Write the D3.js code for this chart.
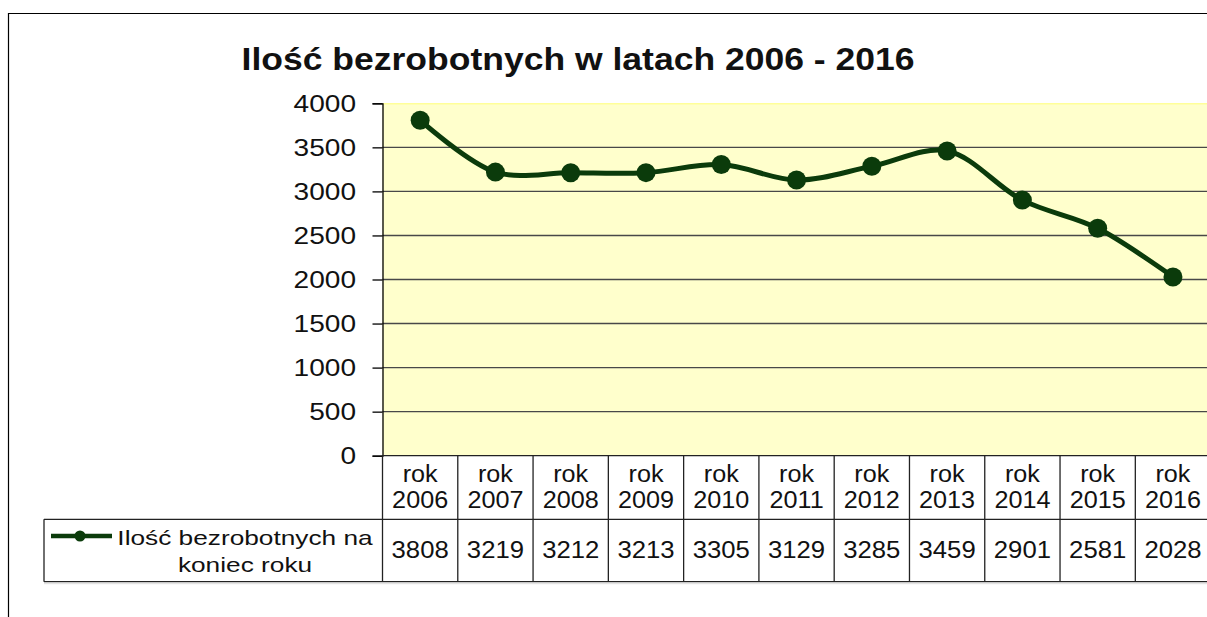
<!DOCTYPE html>
<meta charset="utf-8">
<style>
  body { margin: 0; background: #fff; }
  text { font-family: "Liberation Sans", Arial, sans-serif; fill: #111; }
</style>
<body></body>
<script src="https://cdn.jsdelivr.net/npm/d3@7"></script>
<script>
  const width = 1207
  const height = 617

  const title = "Ilość bezrobotnych w latach 2006 - 2016"
  const seriesName = ["Ilość bezrobotnych na", "koniec roku"]
  const years = ["2006", "2007", "2008", "2009", "2010", "2011", "2012", "2013", "2014", "2015", "2016"]
  const unemployed = [3808, 3219, 3212, 3213, 3305, 3129, 3285, 3459, 2901, 2581, 2028]
  const yTicks = [0, 500, 1000, 1500, 2000, 2500, 3000, 3500, 4000]

  const lineColor = "#0b3b0b"
  const plotBg = "#ffffcc"
  const gridColor = "#484848"

  // plot frame (right edge runs off the page like in the source picture)
  const plot = { left: 382.5, right: 1210.6, top: 103.3, bottom: 455.7 }
  const rowTop = 519.3
  const rowBottom = 581.7
  const legendLeft = 44

  const x = d3.scaleBand()
    .domain(years)
    .range([plot.left, plot.right])

  const y = d3.scaleLinear()
    .domain([0, 4000])
    .range([plot.bottom, plot.top])

  const svg = d3.select("body")
    .append("svg")
    .attr("width", width)
    .attr("height", height)

  // helper: text slightly stretched horizontally, like the original export
  function label(parent, str, px, py, size, sx, anchor, weight) {
    return parent.append("text")
      .attr("transform", `translate(${px},${py}) scale(${sx},1)`)
      .attr("text-anchor", anchor || "middle")
      .attr("font-size", size)
      .attr("font-weight", weight || "normal")
      .text(str)
  }

  // outer chart border
  svg.append("path")
    .attr("d", `M8.5,${height + 2} V13.5 H${width + 2}`)
    .attr("fill", "none")
    .attr("stroke", "#000")
    .attr("stroke-width", 1.2)

  label(svg, title, 578, 69.5, 32, 1.11, "middle", "bold")

  // plot background
  svg.append("rect")
    .attr("x", plot.left)
    .attr("y", plot.top)
    .attr("width", plot.right - plot.left)
    .attr("height", plot.bottom - plot.top)
    .attr("fill", plotBg)

  svg.append("line")
    .attr("x1", plot.left).attr("x2", plot.right)
    .attr("y1", plot.top + 0.5).attr("y2", plot.top + 0.5)
    .attr("stroke", "#ffff99")
    .attr("stroke-width", 1.5)

  // gridlines
  svg.append("g")
    .selectAll("line")
    .data(yTicks.filter(d => d > 0 && d < 4000))
    .join("line")
    .attr("x1", plot.left).attr("x2", plot.right)
    .attr("y1", d => y(d)).attr("y2", d => y(d))
    .attr("stroke", gridColor)
    .attr("stroke-width", 1.4)

  // y axis
  const yAxis = svg.append("g")
    .attr("transform", `translate(${plot.left},0)`)
    .call(d3.axisLeft(y).tickValues(yTicks).tickSize(10).tickFormat(""))

  yAxis.select(".domain").attr("stroke", "#000").attr("stroke-width", 1.3)
  yAxis.selectAll(".tick line").attr("stroke", "#000").attr("stroke-width", 1.3)

  yTicks.forEach(t => {
    label(svg, String(t), 356, y(t) + 8.5, 23, 1.22, "end")
  })

  // data table below the plot
  const table = svg.append("g")
    .attr("stroke", "#222")
    .attr("stroke-width", 1.3)
    .attr("fill", "none")

  table.append("line")
    .attr("x1", plot.left).attr("x2", plot.right)
    .attr("y1", plot.bottom).attr("y2", plot.bottom)
  table.append("line")
    .attr("x1", legendLeft).attr("x2", plot.right)
    .attr("y1", rowTop).attr("y2", rowTop)
  table.append("line")
    .attr("x1", legendLeft).attr("x2", plot.right)
    .attr("y1", rowBottom).attr("y2", rowBottom)
  table.append("line")
    .attr("x1", legendLeft).attr("x2", legendLeft)
    .attr("y1", rowTop).attr("y2", rowBottom)

  table.selectAll("line.sep")
    .data(years.map(d => x(d)).concat([plot.right]))
    .join("line")
    .classed("sep", true)
    .attr("x1", d => d).attr("x2", d => d)
    .attr("y1", plot.bottom).attr("y2", rowBottom)

  svg.append("line")
    .attr("x1", legendLeft).attr("x2", plot.right)
    .attr("y1", rowBottom + 2).attr("y2", rowBottom + 2)
    .attr("stroke", "#ddd")
    .attr("stroke-width", 1)

  years.forEach((yr, i) => {
    const cx = x(yr) + x.bandwidth() / 2
    label(svg, "rok", cx, 481.5, 24, 1.05)
    label(svg, yr, cx, 508.3, 24, 1.05)
    label(svg, String(unemployed[i]), cx, 558.3, 24, 1.07)
  })

  // legend key in the table
  svg.append("line")
    .attr("x1", 51).attr("x2", 112)
    .attr("y1", 536).attr("y2", 536)
    .attr("stroke", lineColor)
    .attr("stroke-width", 4.5)
  svg.append("circle")
    .attr("cx", 80).attr("cy", 536).attr("r", 5.5)
    .attr("fill", lineColor)

  label(svg, seriesName[0], 245, 545, 21, 1.25)
  label(svg, seriesName[1], 245, 571.5, 21, 1.25)

  // smoothed series line with markers
  const line = d3.line()
    .x((d, i) => x(years[i]) + x.bandwidth() / 2)
    .y(d => y(d))
    .curve(d3.curveCatmullRom.alpha(0.5))

  svg.append("path")
    .datum(unemployed)
    .attr("d", line)
    .attr("fill", "none")
    .attr("stroke", lineColor)
    .attr("stroke-width", 5)
    .attr("stroke-linejoin", "round")

  svg.append("g")
    .selectAll("circle")
    .data(unemployed)
    .join("circle")
    .attr("cx", (d, i) => x(years[i]) + x.bandwidth() / 2)
    .attr("cy", d => y(d))
    .attr("r", 9.5)
    .attr("fill", lineColor)
</script>
